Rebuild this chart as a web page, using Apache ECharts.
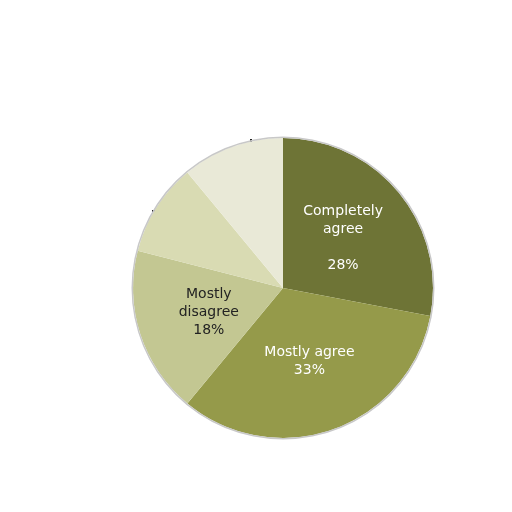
<!DOCTYPE html>
<html><head><meta charset="utf-8">
<script src="https://cdn.jsdelivr.net/npm/echarts@6/dist/echarts.min.js"></script>
<style>html,body{margin:0;background:#fff}#c{width:512px;height:512px}</style>
</head><body><div id="c"></div>
<script>
const categories = ['Completely agree', 'Mostly agree', 'Mostly disagree', 'Completely disagree', 'No opinion'];
const values = [28, 33, 18, 10, 11];
const labels = ['Completely\nagree\n\n28%', 'Mostly agree\n33%', 'Mostly\ndisagree\n18%', '', ''];
const colors = ['#6e7436', '#959a4a', '#c3c792', '#d9dbb3', '#e9e9d7'];
const labelColors = ['#fff', '#fff', '#222', '#222', '#222'];
const chart = echarts.init(document.getElementById('c'));
chart.setOption({
  animation: false,
  series: [{
    type: 'pie', center: [283, 288], radius: 150, startAngle: 90, clockwise: true,
    itemStyle: { borderColor: '#c8c8c8', borderWidth: 0 },
    data: categories.map((c, i) => ({
      name: c, value: values[i],
      itemStyle: { color: colors[i] },
      label: { show: labels[i] !== '', position: 'inside', formatter: labels[i], color: labelColors[i],
               fontFamily: 'DejaVu Sans', fontSize: 14, lineHeight: 18 }
    })),
    labelLine: { show: false }
  }, {
    type: 'pie', center: [283, 288], radius: [150, 151.5], silent: true, label: { show: false },
    data: [{ value: 1, itemStyle: { color: '#c8c8c8' } }]
  }],
  graphic: [
    { type: 'polyline', shape: { points: [[152, 211], [187, 211], [187, 240]] }, style: { stroke: '#222', lineWidth: 2, fill: null } },
    { type: 'polyline', shape: { points: [[251, 139], [251, 200]] }, style: { stroke: '#222', lineWidth: 2, fill: null } }
  ]
});
</script></body></html>
